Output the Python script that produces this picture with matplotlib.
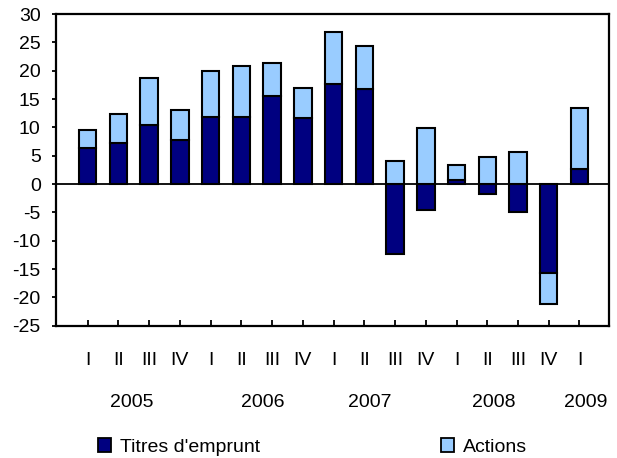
import numpy as np
import matplotlib.pyplot as plt
from matplotlib.patches import Patch

plt.rcParams['font.family'] = ['Liberation Sans', 'DejaVu Sans']
plt.rcParams['axes.unicode_minus'] = False

# trimestres 2005 T1 -> 2009 T1
quarters = ['I', 'II', 'III', 'IV', 'I', 'II', 'III', 'IV', 'I', 'II', 'III', 'IV',
            'I', 'II', 'III', 'IV', 'I']
years = ['2005', '2006', '2007', '2008', '2009']
year_pos = [1.43, 5.69, 9.17, 13.22, 16.2]   # où les étiquettes d'année tombent

titres = np.array([6.4, 7.2, 10.4, 7.8, 11.8, 11.8, 15.5, 11.7, 17.6, 16.7,
                   -12.3, -4.5, 0.7, -1.7, -5.0, -15.7, 2.6])
actions = np.array([3.1, 5.2, 8.3, 5.2, 8.2, 9.1, 5.8, 5.2, 9.3, 7.6,
                    4.1, 9.8, 2.7, 4.8, 5.7, -5.5, 10.9])

c_titres = '#000080'
c_actions = '#99CCFF'
fs = 14

fig = plt.figure(figsize=(6.17, 4.58), dpi=100)
ax = fig.add_axes([0.0908, 0.2889, 0.8967, 0.6805])

x = np.arange(len(quarters))
# empilement comme Excel : positifs et négatifs séparément
bas = np.where(np.sign(actions) == np.sign(titres), titres, 0)
ax.bar(x, titres, width=0.57, color=c_titres, edgecolor='black', linewidth=1.5, zorder=2)
ax.bar(x, actions, bottom=bas, width=0.57, color=c_actions, edgecolor='black', linewidth=1.5, zorder=2)
ax.axhline(0, color='black', linewidth=1.3, zorder=3)

ax.set_xlim(-1.03, 16.97)
ax.set_ylim(-25, 30)
ax.set_yticks(np.arange(-25, 31, 5))
ax.set_xticks(x)
ax.set_xticklabels(quarters)
ax.tick_params(axis='x', direction='in', length=4, width=1.3, pad=19, labelsize=fs)
ax.tick_params(axis='y', direction='out', length=3, width=1.3, pad=8, labelsize=fs)
for s in ax.spines.values():
    s.set_linewidth(1.6)

for yr, p in zip(years, year_pos):
    ax.text(p, -0.248, yr, transform=ax.get_xaxis_transform(), ha='center', va='center',
            fontsize=fs)

handles = [Patch(facecolor=c_titres, edgecolor='black', linewidth=1.3, label="Titres d'emprunt"),
           Patch(facecolor=c_actions, edgecolor='black', linewidth=1.3, label='Actions')]
fig.legend(handles=handles, loc='center left', bbox_to_anchor=(98 / 617, 1 - 447 / 458),
           ncol=2, frameon=False, fontsize=fs, handlelength=0.67, handleheight=0.67,
           handletextpad=0.46, columnspacing=9.3, borderpad=0, borderaxespad=0)

fig.savefig('out.png', dpi=100)
